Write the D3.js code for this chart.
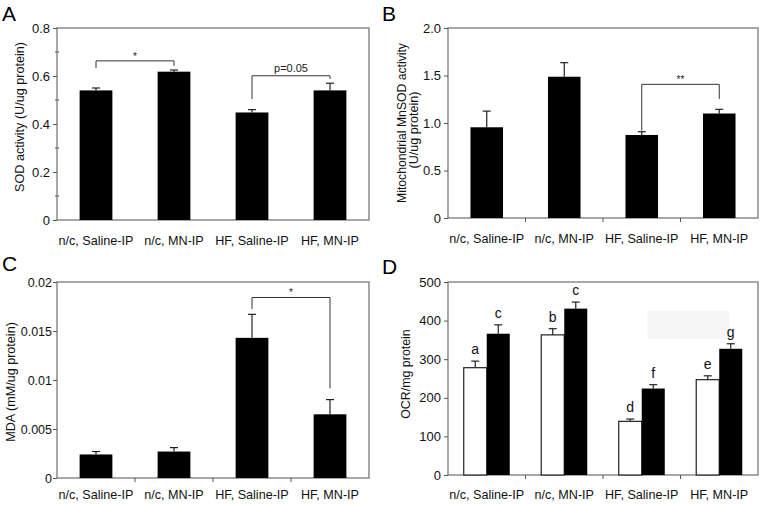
<!DOCTYPE html>
<html>
<head>
<meta charset="utf-8">
<script src="https://cdn.jsdelivr.net/npm/d3@7"></script>
<style>
  body { margin: 0; background: #fff; }
  svg { font-family: "Liberation Sans", Arial, sans-serif; }
</style>
</head>
<body>
<div class="graph"></div>
<script>
// groups on every panel
var groups = ['n/c, Saline-IP', 'n/c, MN-IP', 'HF, Saline-IP', 'HF, MN-IP'];

// A: SOD activity
var sodMean = [0.54, 0.618, 0.448, 0.54];
var sodErr = [0.01, 0.007, 0.012, 0.03];
var sodTicks = [0, 0.2, 0.4, 0.6, 0.8];

// B: mitochondrial MnSOD
var mnsodMean = [0.955, 1.487, 0.874, 1.10];
var mnsodErr = [0.17, 0.148, 0.034, 0.044];
var mnsodTicks = [0, 0.5, 1.0, 1.5, 2.0];

// C: MDA
var mdaMean = [0.0024, 0.0027, 0.0143, 0.0065];
var mdaErr = [0.0003, 0.0004, 0.0024, 0.0015];
var mdaTicks = [0, 0.005, 0.01, 0.015, 0.02];

// D: OCR, white and black bars
var ocrWhite = [278, 363, 139, 247];
var ocrWhiteErr = [17, 16, 6, 10];
var ocrBlack = [366, 431, 224, 327];
var ocrBlackErr = [23, 17, 10, 13];
var ocrWhiteLetters = ['a', 'b', 'd', 'e'];
var ocrBlackLetters = ['c', 'c', 'f', 'g'];
var ocrTicks = [0, 100, 200, 300, 400, 500];

// significance brackets: from group, to group, line level, drop levels, label
var sodBrackets = [
  {a: 0, b: 1, top: 0.663, endA: 0.633, endB: 0.642, label: '*'},
  {a: 2, b: 3, top: 0.601, endA: 0.504, endB: 0.588, label: 'p=0.05'}
];
var mnsodBrackets = [
  {a: 2, b: 3, top: 1.407, endA: 0.919, endB: 1.253, label: '**'}
];
var mdaBrackets = [
  {a: 2, b: 3, top: 0.01842, endA: 0.01724, endB: 0.00915, label: '*'}
];

var svg = d3.select('.graph').append('svg')
  .attr('width', 762)
  .attr('height', 505);

function panel(o) {
  var g = svg.append('g');
  var x = d3.scaleBand().domain(groups).range([o.left, o.right])
    .paddingInner(o.pad).paddingOuter(o.pad / 2);
  var y = d3.scaleLinear().domain([0, o.ticks[o.ticks.length - 1]]).range([o.bottom, o.top]);

  // frame
  g.append('rect')
    .attr('x', o.left).attr('y', o.top)
    .attr('width', o.right - o.left).attr('height', o.bottom - o.top)
    .attr('fill', 'none').attr('stroke', '#6e6e6e').attr('stroke-width', 1.2);

  var yAxis = d3.axisLeft(y).tickValues(o.ticks).tickSize(4)
    .tickPadding(o.tickPad == null ? 3 : o.tickPad)
    .tickFormat(o.format || d3.format(''));
  var ya = g.append('g').attr('transform', 'translate(' + o.left + ',0)').call(yAxis);
  ya.select('.domain').remove();
  ya.selectAll('line').attr('stroke', '#555');
  ya.selectAll('text').attr('font-size', o.tickSize || 13).attr('fill', '#111');

  if (o.minor) {
    g.selectAll('.minor').data(o.minor).enter().append('line')
      .attr('x1', o.left - 2).attr('x2', o.left + 2)
      .attr('y1', function(d) { return y(d); })
      .attr('y2', function(d) { return y(d); })
      .attr('stroke', '#555');
  }

  if (o.xTicks) {
    g.selectAll('.xt').data(groups.slice(1)).enter().append('line')
      .attr('x1', function(d) { return x(d) - x.step() * o.pad / 2; })
      .attr('x2', function(d) { return x(d) - x.step() * o.pad / 2; })
      .attr('y1', o.bottom).attr('y2', o.bottom + 4)
      .attr('stroke', '#555');
  }

  g.selectAll('.xl').data(groups).enter().append('text')
    .attr('x', function(d) { return x(d) + x.bandwidth() / 2; })
    .attr('y', o.bottom + o.labelDy)
    .attr('text-anchor', 'middle')
    .attr('font-size', 12.6)
    .attr('fill', '#111')
    .text(function(d) { return d; });

  // y title lines
  o.title.forEach(function(t) {
    g.append('text')
      .attr('transform', 'translate(' + t.x + ',' + t.y + ') rotate(-90)')
      .attr('text-anchor', 'middle')
      .attr('font-size', t.size || 12.6)
      .attr('fill', '#111')
      .text(t.text);
  });

  g.append('text')
    .attr('x', o.letterX).attr('y', o.letterY)
    .attr('font-size', 21)
    .attr('fill', '#000')
    .text(o.letter);

  return {g: g, x: x, y: y};
}

function bars(p, mean, err, opts) {
  var sub = opts.sub || {off: 0, w: p.x.bandwidth()};
  var data = groups.map(function(d, i) { return {k: d, v: mean[i], e: err[i]}; });
  var cx = function(d) { return p.x(d.k) + sub.off + sub.w / 2; };

  p.g.selectAll(null).data(data).enter().append('line')
    .attr('x1', cx).attr('x2', cx)
    .attr('y1', function(d) { return p.y(d.v); })
    .attr('y2', function(d) { return p.y(d.v + d.e); })
    .attr('stroke', '#222').attr('stroke-width', 1.2);
  p.g.selectAll(null).data(data).enter().append('line')
    .attr('x1', function(d) { return cx(d) - 4; })
    .attr('x2', function(d) { return cx(d) + 4; })
    .attr('y1', function(d) { return p.y(d.v + d.e); })
    .attr('y2', function(d) { return p.y(d.v + d.e); })
    .attr('stroke', '#222').attr('stroke-width', 1.2);

  p.g.selectAll(null).data(data).enter().append('rect')
    .attr('x', function(d) { return p.x(d.k) + sub.off; })
    .attr('y', function(d) { return p.y(d.v); })
    .attr('width', sub.w)
    .attr('height', function(d) { return p.y(0) - p.y(d.v); })
    .attr('fill', opts.fill)
    .attr('stroke', opts.stroke || 'none')
    .attr('stroke-width', 1.2);

  if (opts.letters) {
    p.g.selectAll(null).data(data).enter().append('text')
      .attr('x', cx)
      .attr('y', function(d) { return p.y(d.v + d.e) - 7; })
      .attr('text-anchor', 'middle')
      .attr('font-size', 14)
      .attr('fill', '#111')
      .text(function(d, i) { return opts.letters[i]; });
  }
}

function brackets(p, list) {
  list.forEach(function(b) {
    var xa = p.x(groups[b.a]) + p.x.bandwidth() / 2;
    var xb = p.x(groups[b.b]) + p.x.bandwidth() / 2;
    p.g.append('path')
      .attr('d', 'M' + xa + ',' + p.y(b.endA) + 'V' + p.y(b.top) + 'H' + xb + 'V' + p.y(b.endB))
      .attr('fill', 'none').attr('stroke', '#333').attr('stroke-width', 1);
    p.g.append('text')
      .attr('x', (xa + xb) / 2)
      .attr('y', p.y(b.top) - (b.label.charAt(0) === '*' ? 1 : 4))
      .attr('text-anchor', 'middle')
      .attr('font-size', b.label.charAt(0) === '*' ? 10 : 11)
      .attr('fill', '#222')
      .text(b.label);
  });
}

// A
var pA = panel({left: 57, right: 369, top: 28, bottom: 220, pad: 0.58, labelDy: 25,
  ticks: sodTicks, minor: [0.1, 0.3, 0.5, 0.7], xTicks: false,
  title: [{x: 24, y: 117, text: 'SOD activity (U/ug protein)'}],
  letter: 'A', letterX: 2, letterY: 21});
bars(pA, sodMean, sodErr, {fill: '#000'});
brackets(pA, sodBrackets);

// B
var pB = panel({left: 448, right: 758, top: 28, bottom: 218, pad: 0.58, labelDy: 25,
  ticks: mnsodTicks, xTicks: true,
  format: function(d) { return d === 0 ? '0' : d.toFixed(1); },
  title: [{x: 406, y: 123, text: 'Mitochondrial MnSOD activity', size: 12.2},
          {x: 418, y: 130, text: '(U/ug protein)', size: 12.6}],
  letter: 'B', letterX: 382, letterY: 21});
bars(pB, mnsodMean, mnsodErr, {fill: '#000'});
brackets(pB, mnsodBrackets);

// C
var pC = panel({left: 57, right: 369, top: 282, bottom: 478, pad: 0.58, labelDy: 21,
  ticks: mdaTicks, xTicks: true, tickPad: 1, tickSize: 12.5,
  title: [{x: 15, y: 382, text: 'MDA (mM/ug protein)'}],
  letter: 'C', letterX: 2, letterY: 271});
bars(pC, mdaMean, mdaErr, {fill: '#000'});
brackets(pC, mdaBrackets);

// D
var pD = panel({left: 448, right: 758, top: 282, bottom: 475, pad: 0.406, labelDy: 24,
  ticks: ocrTicks, xTicks: true,
  title: [{x: 410, y: 374, text: 'OCR/mg protein', size: 12.4}],
  letter: 'D', letterX: 382, letterY: 274});
// faint leftover box
pD.g.append('rect')
  .attr('x', pD.x(groups[2]) + pD.x.bandwidth() * 0.62)
  .attr('y', pD.y(425))
  .attr('width', pD.x.step() * 1.06)
  .attr('height', pD.y(353) - pD.y(425))
  .attr('fill', '#f6f6f6');
var half = pD.x.bandwidth() / 2;
bars(pD, ocrWhite, ocrWhiteErr, {fill: '#fff', stroke: '#222', letters: ocrWhiteLetters, sub: {off: 0, w: half}});
bars(pD, ocrBlack, ocrBlackErr, {fill: '#000', letters: ocrBlackLetters, sub: {off: half, w: half}});
</script>
</body>
</html>
